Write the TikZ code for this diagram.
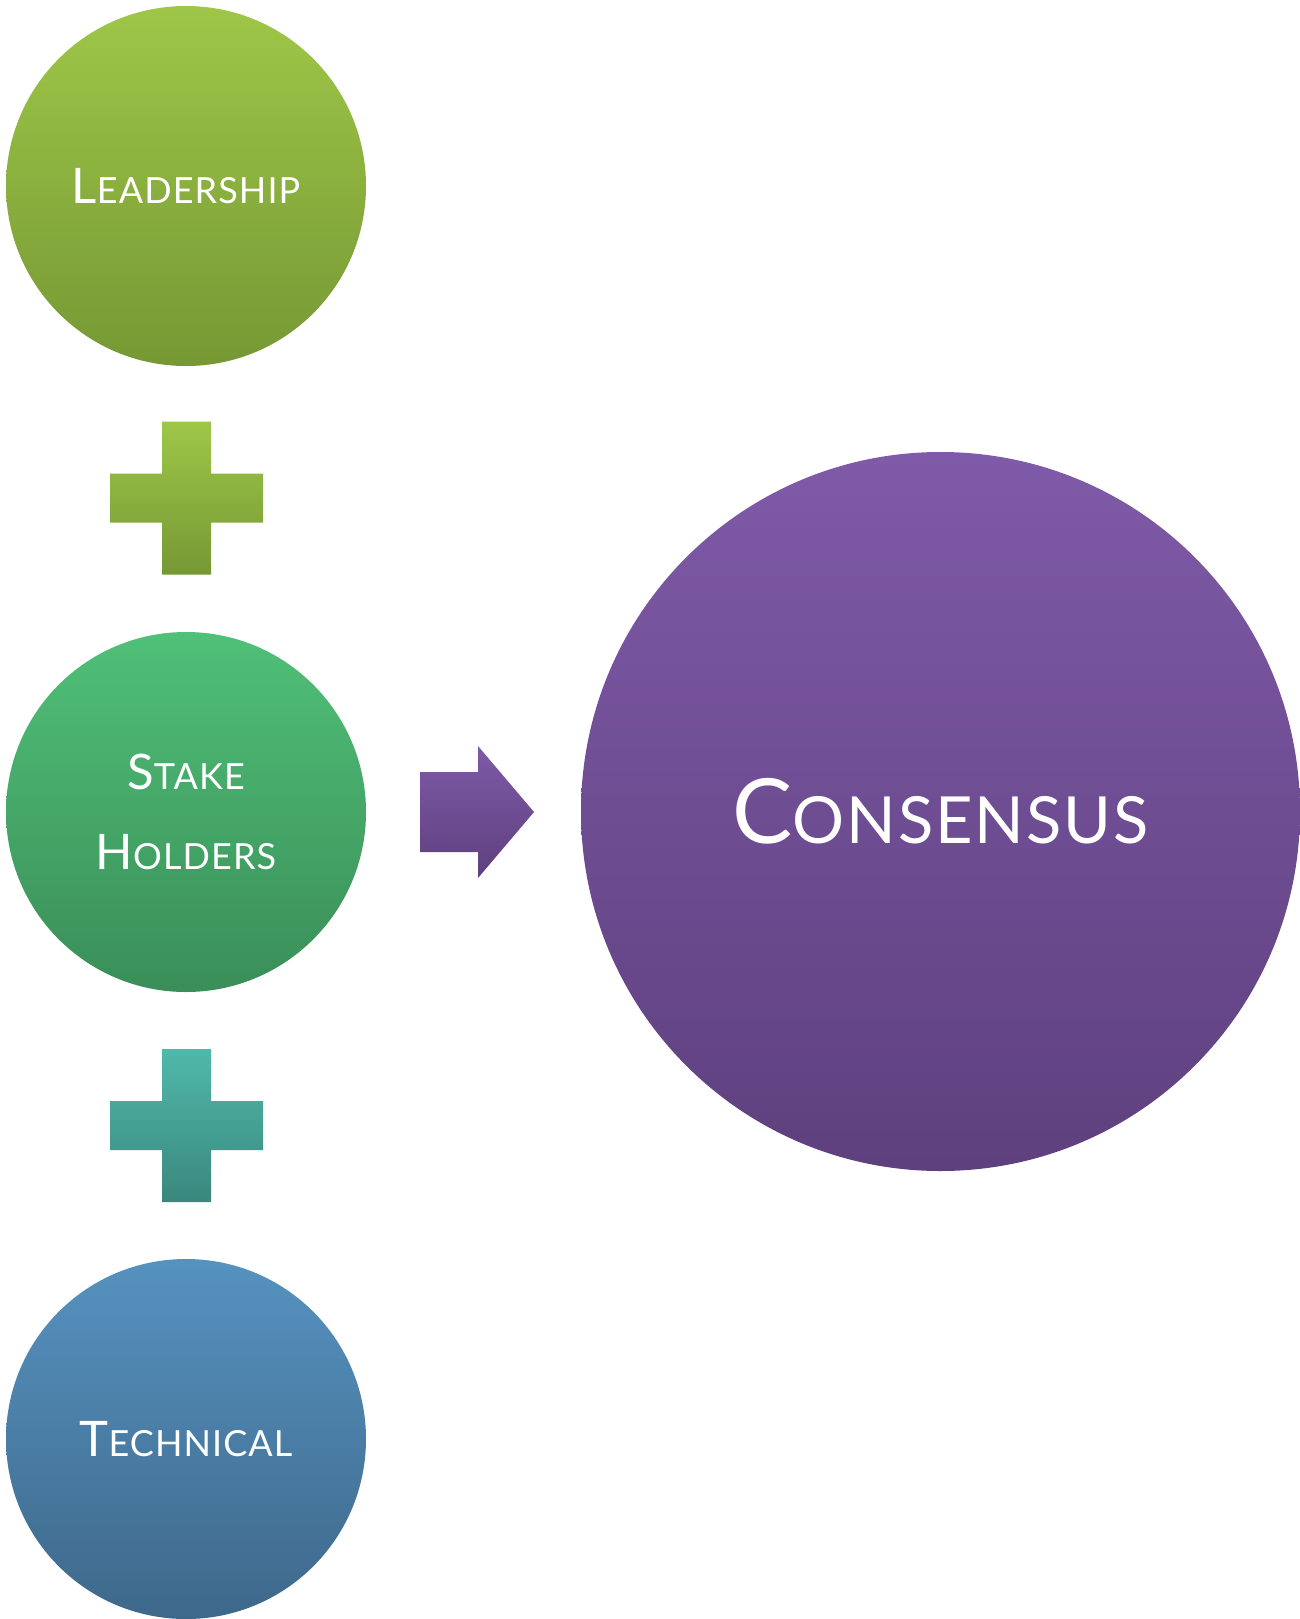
\documentclass[tikz,border=0pt]{standalone}
\usepackage{fontspec}
\setmainfont{Lato}[LetterSpace=3]
\usetikzlibrary{calc}

% small-caps lettering: large initial, smaller capitals after it
\newcommand{\scword}[4]{{\fontsize{#1}{#1}\selectfont #3}{\fontsize{#2}{#2}\selectfont #4}}

\definecolor{greenTop}{RGB}{158,199,72}
\definecolor{greenBot}{RGB}{118,152,52}
\definecolor{mintTop}{RGB}{80,192,120}
\definecolor{mintBot}{RGB}{58,142,88}
\definecolor{blueTop}{RGB}{86,146,192}
\definecolor{blueBot}{RGB}{62,104,138}
\definecolor{violetTop}{RGB}{127,90,168}
\definecolor{violetBot}{RGB}{94,64,126}
\definecolor{tealTop}{RGB}{80,185,170}
\definecolor{tealBot}{RGB}{58,135,125}

\tikzset{
  bubble/.style={circle, minimum size=360pt, inner sep=0pt, text=white,
                 align=center, font=\fontsize{49}{80}\selectfont},
  bigbubble/.style={bubble, minimum size=719pt},
}

\begin{document}
\begin{tikzpicture}[x=1pt, y=-1pt]
\useasboundingbox (0,0) rectangle (1300,1619);

% input circles
\node[bubble, top color=greenTop, bottom color=greenBot] (lead) at (186,186)
  {\scword{49}{36}{L}{EADERSHIP}};
\node[bubble, top color=mintTop, bottom color=mintBot] (stake) at (186,812)
  {\scword{49}{36}{S}{TAKE}\\\scword{49}{36}{H}{OLDERS}};
\node[bubble, top color=blueTop, bottom color=blueBot] (tech) at (186,1439)
  {\scword{49}{36}{T}{ECHNICAL}};

% result circle
\node[bigbubble, top color=violetTop, bottom color=violetBot] (cons) at (940.5,811.5)
  {\scword{90}{65}{C}{ONSENSUS}};

% plus signs between the inputs
\coordinate (p1) at (186.5,498);
\coordinate (p2) at (186.5,1125.5);
\foreach \c/\ct/\cb in {p1/greenTop/greenBot, p2/tealTop/tealBot}{
  \path[top color=\ct, bottom color=\cb]
    ($(\c)+(-24.5,-76.5)$) -- ($(\c)+(24.5,-76.5)$) -- ($(\c)+(24.5,-24.5)$)
    -- ($(\c)+(76.5,-24.5)$) -- ($(\c)+(76.5,24.5)$) -- ($(\c)+(24.5,24.5)$)
    -- ($(\c)+(24.5,76.5)$) -- ($(\c)+(-24.5,76.5)$) -- ($(\c)+(-24.5,24.5)$)
    -- ($(\c)+(-76.5,24.5)$) -- ($(\c)+(-76.5,-24.5)$) -- ($(\c)+(-24.5,-24.5)$)
    -- cycle;
}

% block arrow pointing to the result
\path[top color=violetTop, bottom color=violetBot]
  (420,772) -- (478,772) -- (478,746) -- (534,812) -- (478,878)
  -- (478,852) -- (420,852) -- cycle;
\end{tikzpicture}
\end{document}
